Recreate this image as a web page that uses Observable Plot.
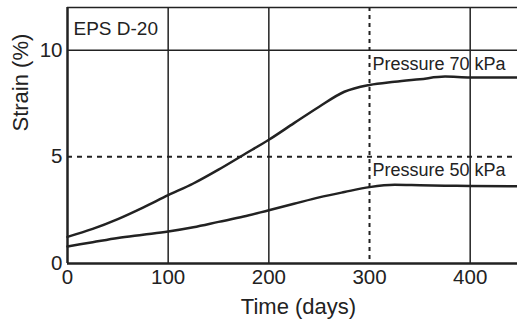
<!DOCTYPE html>
<html>
<head>
<meta charset="utf-8">
<script src="https://cdn.jsdelivr.net/npm/d3@7"></script>
<script src="https://cdn.jsdelivr.net/npm/@observablehq/plot@0.6"></script>
<style>
  html, body { margin: 0; padding: 0; background: #fff; }
  svg { display: block; }
</style>
</head>
<body>
<div id="chart"></div>
<script>
const days = [0, 25, 50, 75, 100, 125, 150, 175, 200, 225, 250, 275, 300, 325, 350, 375, 400, 447];
const strain70 = [1.25, 1.62, 2.08, 2.62, 3.2, 3.75, 4.4, 5.1, 5.8, 6.58, 7.35, 8.05, 8.37, 8.52, 8.64, 8.76, 8.72, 8.72];
const strain50 = [0.8, 1.0, 1.2, 1.35, 1.5, 1.7, 1.95, 2.2, 2.5, 2.8, 3.1, 3.35, 3.58, 3.69, 3.67, 3.65, 3.63, 3.62];
const xTicks = [0, 100, 200, 300, 400];
const yTicks = [0, 5, 10];
const solidX = [100, 200, 400];
const dashedX = [300];
const solidY = [10];
const dashedY = [5];
const seriesLabels = ["Pressure 70 kPa", "Pressure 50 kPa"];
const labelPos = [{x: 302, y: 9.05}, {x: 302, y: 4.12}];
const panelTitle = "EPS D-20";
const xTitle = "Time (days)";
const yTitle = "Strain (%)";

const data = [
  ...days.map((d, i) => ({day: d, strain: strain70[i], s: seriesLabels[0]})),
  ...days.map((d, i) => ({day: d, strain: strain50[i], s: seriesLabels[1]}))
];
const labels = seriesLabels.map((t, i) => ({text: t, x: labelPos[i].x, y: labelPos[i].y}));

const ink = "#222";
const font = "'Liberation Sans', Arial, Helvetica, sans-serif";

const chart = Plot.plot({
  width: 517,
  height: 325,
  marginLeft: 67,
  marginRight: 0,
  marginTop: 7,
  marginBottom: 62,
  style: {fontFamily: font, color: ink, background: "#fff"},
  x: {domain: [0, 447]},
  y: {domain: [0, 12]},
  marks: [
    Plot.axisX({ticks: xTicks, tickSize: 0, tickPadding: 6, label: null, tickFormat: d => String(d), fontSize: 20.5, fill: ink}),
    Plot.axisY({ticks: yTicks, tickSize: 0, tickPadding: 5, label: null, tickFormat: d => String(d), fontSize: 20.5, fill: ink}),
    Plot.ruleX(solidX, {stroke: ink, strokeWidth: 1.5}),
    Plot.ruleX(dashedX, {stroke: ink, strokeWidth: 2, strokeDasharray: "4,4"}),
    Plot.ruleY(solidY, {stroke: ink, strokeWidth: 1.5}),
    Plot.ruleY(dashedY, {stroke: ink, strokeWidth: 2, strokeDasharray: "5,5"}),
    Plot.ruleX([0], {stroke: ink, strokeWidth: 2.5}),
    Plot.ruleY([0], {stroke: ink, strokeWidth: 2.5}),
    Plot.ruleY([12], {stroke: ink, strokeWidth: 1.5}),
    Plot.line(data, {x: "day", y: "strain", z: "s", stroke: ink, strokeWidth: 2.5, curve: "monotone-x"}),
    Plot.text(labels, {x: "x", y: "y", text: "text", textAnchor: "start", lineAnchor: "bottom", fontSize: 18, fill: ink, dx: 1}),
    Plot.text([panelTitle], {frameAnchor: "top-left", dx: 6, dy: 27, lineAnchor: "bottom", fontSize: 19, fill: ink}),
    Plot.text([xTitle], {frameAnchor: "bottom", dx: 6, dy: 43, lineAnchor: "middle", fontSize: 22, fill: ink}),
    Plot.text([yTitle], {frameAnchor: "left", dx: -47, dy: -4, rotate: -90, lineAnchor: "middle", fontSize: 22, fill: ink})
  ]
});
document.getElementById("chart").appendChild(chart);
</script>
</body>
</html>
